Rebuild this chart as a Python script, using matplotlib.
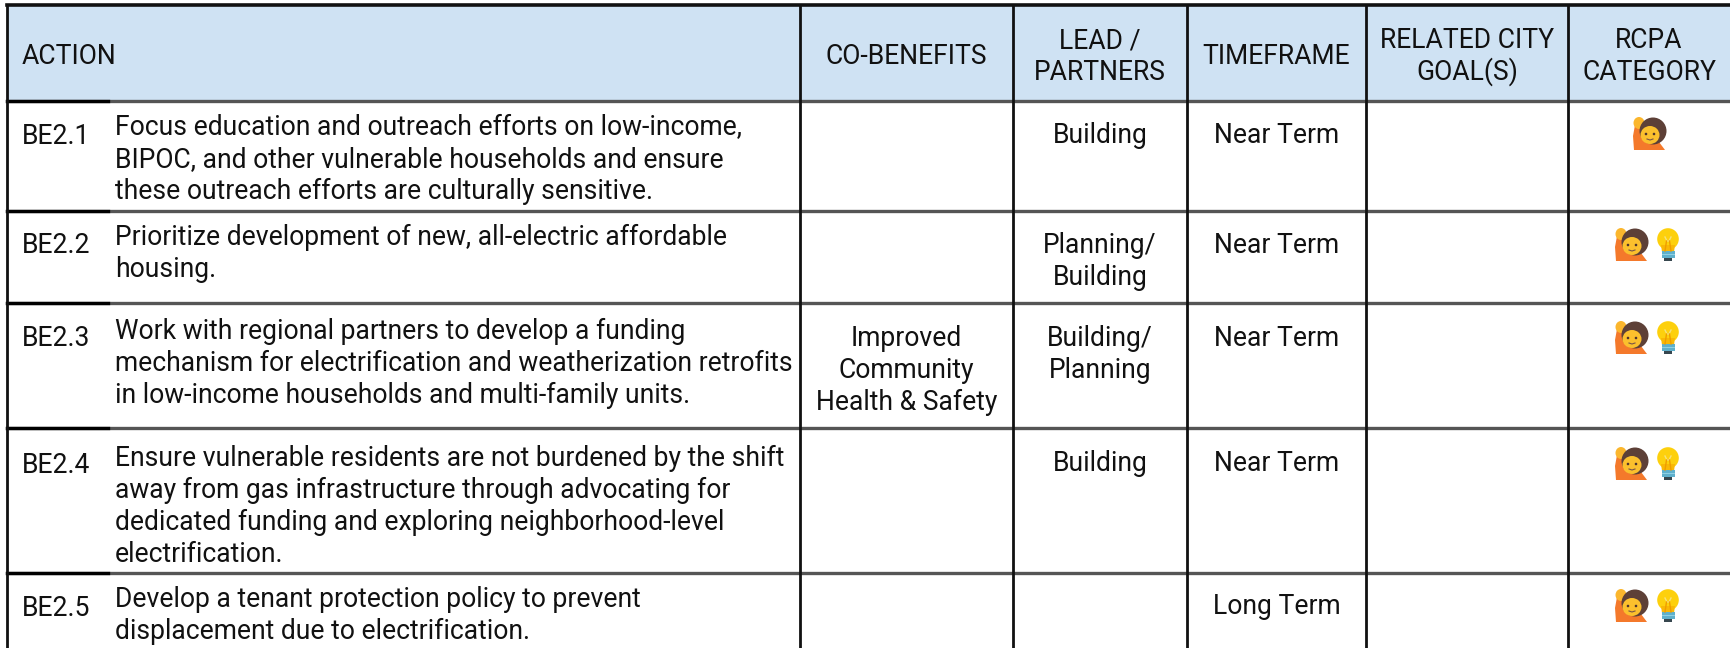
import matplotlib
matplotlib.use("Agg")
import matplotlib.pyplot as plt
from matplotlib.patches import Circle, Ellipse, Polygon, Rectangle

plt.rcParams['font.family'] = ['Roboto', 'DejaVu Sans']

# table content
headers = ["ACTION", "CO-BENEFITS", "LEAD /\nPARTNERS", "TIMEFRAME", "RELATED CITY\nGOAL(S)", "RCPA\nCATEGORY"]
action_ids = ["BE2.1", "BE2.2", "BE2.3", "BE2.4", "BE2.5"]
action_texts = [
    "Focus education and outreach efforts on low-income,\nBIPOC, and other vulnerable households and ensure\nthese outreach efforts are culturally sensitive.",
    "Prioritize development of new, all-electric affordable\nhousing.",
    "Work with regional partners to develop a funding\nmechanism for electrification and weatherization retrofits\nin low-income households and multi-family units.",
    "Ensure vulnerable residents are not burdened by the shift\naway from gas infrastructure through advocating for\ndedicated funding and exploring neighborhood-level\nelectrification.",
    "Develop a tenant protection policy to prevent\ndisplacement due to electrification.",
]
co_benefits = ["", "", "Improved\nCommunity\nHealth & Safety", "", ""]
leads = ["Building", "Planning/\nBuilding", "Building/\nPlanning", "Building", ""]
timeframes = ["Near Term", "Near Term", "Near Term", "Near Term", "Long Term"]
rcpa_icons = [["person"], ["person", "bulb"], ["person", "bulb"], ["person", "bulb"], ["person", "bulb"]]

# layout in reference pixels
col_x = [7, 800, 1013, 1187, 1366, 1568]
row_y = [5, 101, 211, 303, 428, 573]
right_edge = 1730
id_x = 22
text_x = 115
id_col_right = 108
line_h = 32
font_pt = 19.1
id_base = [144, 253, 346, 473, 616]
text_base = [135, 245, 339, 466, 607]
cell_base = [143, 253, 346, 471, 614]
icon_y = [134, 245, 338, 464, 606]

fig = plt.figure(figsize=(17.30, 6.48), dpi=100)
ax = fig.add_axes([0, 0, 1, 1])
ax.set_xlim(0, 1730)
ax.set_ylim(648, 0)
ax.axis('off')

ax.add_patch(Rectangle((col_x[0], row_y[0]), right_edge - col_x[0], row_y[1] - row_y[0], color='#cfe2f3', lw=0))


def multiline(x, y, s, ha='left', size=font_pt):
    for i, line in enumerate(s.split("\n")):
        ax.text(x, y + i * line_h, line, ha=ha, va='baseline', fontsize=size, color='#111111')


def draw_person(cx, cy):
    # hand-drawn raised hand emoji, about 32x33 px
    ax.add_patch(Polygon([(cx - 15, cy + 16), (cx - 16, cy + 2), (cx - 14, cy - 9), (cx - 6, cy - 9),
                          (cx - 6, cy + 4), (cx + 2, cy + 8), (cx + 10, cy + 8), (cx + 16, cy + 16)],
                         closed=True, color='#f4792b', lw=0, zorder=3))
    ax.add_patch(Ellipse((cx - 10, cy - 11), 11, 12, color='#fbb62d', lw=0, zorder=4))
    ax.add_patch(Circle((cx + 4, cy - 3), 13.5, color='#5d4037', lw=0, zorder=4))
    ax.add_patch(Ellipse((cx + 1, cy + 1), 19, 18, color='#fbc02d', lw=0, zorder=5))
    ax.add_patch(Circle((cx - 3, cy), 1.3, color='#4e342e', lw=0, zorder=6))
    ax.add_patch(Circle((cx + 5, cy), 1.3, color='#4e342e', lw=0, zorder=6))
    ax.plot([cx - 2, cx + 1, cx + 4], [cy + 5, cy + 6, cy + 5], color='#795548', lw=0.8, zorder=6)


def draw_bulb(cx, cy):
    ax.add_patch(Circle((cx, cy - 6), 10.8, color='#fdd00d', lw=0, zorder=3))
    ax.add_patch(Polygon([(cx - 7, cy), (cx + 7, cy), (cx + 6, cy + 7), (cx - 6, cy + 7)],
                         closed=True, color='#f9b806', lw=0, zorder=3))
    ax.add_patch(Rectangle((cx - 6.5, cy + 6), 13, 7, color='#5fb0cc', lw=0, zorder=4))
    ax.add_patch(Rectangle((cx - 6.5, cy + 8.5), 13, 1.2, color='#8ed0e4', lw=0, zorder=5))
    ax.add_patch(Rectangle((cx - 4, cy + 13), 8, 3, color='#37474f', lw=0, zorder=4))
    ax.plot([cx - 3, cx - 1, cx + 1, cx + 3], [cy - 8, cy - 4, cy - 4, cy - 8], color='#f6e27a', lw=1, zorder=5)
    ax.plot([cx - 1.5, cx - 3], [cy - 4, cy + 6], color='#ef9d00', lw=1, zorder=5)
    ax.plot([cx + 1.5, cx + 3], [cy - 4, cy + 6], color='#ef9d00', lw=1, zorder=5)


# header
ax.text(id_x, 64, headers[0], ha='left', va='baseline', fontsize=font_pt, color='#111111')
header_x = [(col_x[1] + col_x[2]) / 2, (col_x[2] + col_x[3]) / 2, (col_x[3] + col_x[4]) / 2,
            (col_x[4] + col_x[5]) / 2, (col_x[5] + right_edge) / 2]
for h, cx in zip(headers[1:], header_x):
    multiline(cx, 48 if "\n" in h else 64, h, ha='center')

# body rows
for r in range(len(action_ids)):
    ax.text(id_x, id_base[r], action_ids[r], ha='left', va='baseline', fontsize=font_pt, color='#111111')
    multiline(text_x, text_base[r], action_texts[r])
    multiline(header_x[0], cell_base[r], co_benefits[r], ha='center')
    multiline(header_x[1], cell_base[r], leads[r], ha='center')
    multiline(header_x[2], cell_base[r], timeframes[r], ha='center')
    if len(rcpa_icons[r]) == 1:
        draw_person(1649, icon_y[r])
    else:
        draw_person(1631, icon_y[r])
        draw_bulb(1668, icon_y[r])

# grid, no right border in the reference
ax.plot([col_x[0], right_edge], [row_y[0], row_y[0]], color='#111111', lw=2.6, zorder=7)
for y in row_y[1:]:
    ax.plot([col_x[0], right_edge], [y, y], color='#555555', lw=2.4, zorder=7)
    ax.plot([col_x[0], id_col_right], [y, y], color='#000000', lw=2.4, zorder=8)
for x in col_x:
    ax.plot([x, x], [row_y[0], 648], color='#111111', lw=2.0, zorder=9)

fig.savefig("out.png", dpi=100)
